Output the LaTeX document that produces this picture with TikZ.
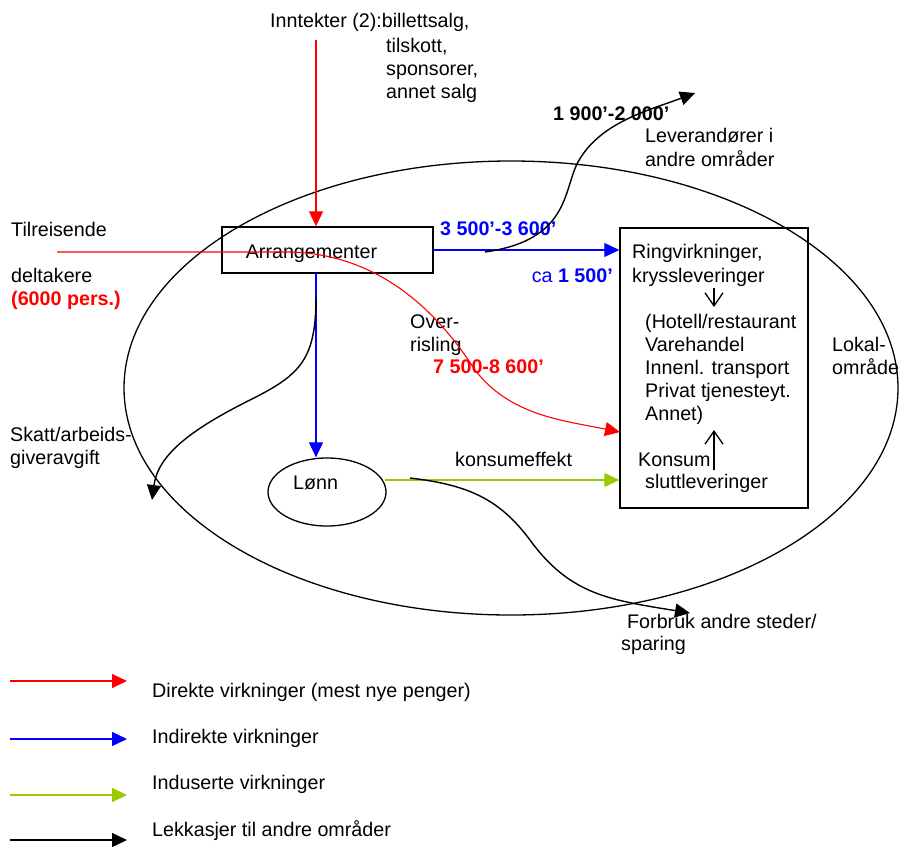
\documentclass[tikz,border=0pt]{standalone}
\usepackage{fontspec}
\setmainfont{Liberation Sans}
\usetikzlibrary{arrows.meta,shapes.geometric}
\definecolor{dred}{RGB}{255,0,0}
\definecolor{dblue}{RGB}{0,0,255}
\definecolor{dgreen}{RGB}{153,204,0}
\begin{document}
\begin{tikzpicture}[x=1pt,y=-1pt,
  lbl/.style={anchor=base west, inner sep=0pt, font=\fontsize{19.7}{23}\selectfont},
  tri/.style={-{Triangle[length=15pt,width=14pt]}},
  barb/.style={-{Straight Barb[length=13pt,width=18pt]}, line width=1.3pt},
  redl/.style={dred, line width=1.1pt, tri},
  bluel/.style={dblue, line width=1.1pt, tri},
  greenl/.style={dgreen, line width=1.4pt, tri},
  blackl/.style={black, line width=1.4pt, tri},
  boxst/.style={draw, line width=1.4pt, rectangle, inner sep=0pt}
]
\useasboundingbox (0,0) rectangle (901,846);

% big ellipse (local area)
\node[draw, line width=1.3pt, ellipse, inner sep=0pt, minimum width=774pt, minimum height=454pt] (lokal) at (511,388) {};

% boxes
\node[boxst, minimum width=211pt, minimum height=46pt] (arr) at (327.5,250) {};
\node[lbl, anchor=base] (arrtxt) at (311.5,258) {Arrangementer};
\node[boxst, minimum width=188pt, minimum height=280pt] (rbox) at (714,368) {};
\node[draw, line width=1.3pt, ellipse, inner sep=0pt, minimum width=118pt, minimum height=68pt] (lonn) at (327,492) {};
\node[lbl] (lonntxt) at (293,489) {Lønn};

% texts
\node[lbl] (inn1) at (270,27) {Inntekter (2):billettsalg,};
\node[lbl] (inn2) at (386,52) {tilskott,};
\node[lbl] (inn3) at (386,75) {sponsorer,};
\node[lbl] (inn4) at (386,98) {annet salg};
\node[lbl, font=\fontsize{19.7}{23}\selectfont\bfseries] (lev0) at (553,120) {1 900’-2 000’};
\node[lbl] (lev1) at (645,142) {Leverandører i};
\node[lbl] (lev2) at (645,166) {andre områder};
\node[lbl] (til1) at (11,236) {Tilreisende};
\node[lbl] (til2) at (11,282) {deltakere};
\node[lbl, text=dred, font=\fontsize{19.7}{23}\selectfont\bfseries] (til3) at (11,305) {(6000 pers.)};
\node[lbl, text=dblue, font=\fontsize{19.7}{23}\selectfont\bfseries] (b1) at (440,235) {3 500’-3 600’};
\node[lbl, text=dblue, anchor=base east] (b2) at (613,282) {ca \textbf{1 500’}};
\node[lbl] (r1) at (632,258) {Ringvirkninger,};
\node[lbl] (r2) at (632,282) {kryssleveringer};
\node[lbl] (r3) at (645,328) {(Hotell/restaurant};
\node[lbl] (r4) at (645,351) {Varehandel};
\node[lbl] (r5) at (645,374) {Innenl. transport};
\node[lbl] (r6) at (645,397) {Privat tjenesteyt.};
\node[lbl] (r7) at (645,420) {Annet)};
\node[lbl] (r8) at (638,466) {Konsum};
\node[lbl] (r9) at (645,488) {sluttleveringer};
\node[lbl] (ov1) at (410,328) {Over-};
\node[lbl] (ov2) at (410,351) {risling};
\node[lbl, text=dred, font=\fontsize{19.7}{23}\selectfont\bfseries] (ov3) at (433,373) {7 500-8 600’};
\node[lbl] (kons) at (455,466) {konsumeffekt};
\node[lbl] (lok1) at (832,351) {Lokal-};
\node[lbl] (lok2) at (832,374) {område};
\node[lbl] (sk1) at (10,441) {Skatt/arbeids-};
\node[lbl] (sk2) at (10,464) {giveravgift};
\node[lbl] (fb1) at (627,628) {Forbruk andre steder/};
\node[lbl] (fb2) at (621,650) {sparing};

% coordinates
\coordinate (innc) at (316,40);
\coordinate (tilc) at (57,252);
\coordinate (redend) at (620,432);
\coordinate (bd) at (316,273);
\coordinate (g1) at (385,480);
\coordinate (levs) at (485,252);
\coordinate (leve) at (695,93);
\coordinate (sks) at (316,297);
\coordinate (ske) at (152,500);
\coordinate (fbs) at (410,478);
\coordinate (fbe) at (690,613);
\coordinate (da1) at (714,288);
\coordinate (da2) at (714,307);
\coordinate (ua1) at (714,470);
\coordinate (ua2) at (714,430);

% connectors
\draw[redl] (innc) -- (innc |- arr.north);
\draw[redl] (tilc) -- (290,252) .. controls (370,254) and (430,300) .. (475,370)
   .. controls (510,415) and (560,420) .. (redend);
\draw[bluel] (arr.east) -- (rbox.west |- arr.east);
\draw[bluel] (bd) -- (bd |- lonn.north);
\draw[greenl] (g1) -- (rbox.west |- g1);
\draw[blackl] (levs) .. controls (570,240) and (563,190) .. (578,162)
   .. controls (600,122) and (650,110) .. (leve);
\draw[blackl] (sks) .. controls (316,360) and (300,375) .. (250,400)
   .. controls (190,430) and (158,455) .. (ske);
\draw[blackl] (fbs) .. controls (470,485) and (500,500) .. (530,540)
   .. controls (570,595) and (610,600) .. (fbe);
\draw[barb] (da1) -- (da2);
\draw[barb] (ua1) -- (ua2);

% legend
\coordinate (l1a) at (10,681); \coordinate (l1b) at (127,681);
\coordinate (l2a) at (10,739); \coordinate (l2b) at (127,739);
\coordinate (l3a) at (10,795); \coordinate (l3b) at (127,795);
\coordinate (l4a) at (10,840); \coordinate (l4b) at (127,840);
\draw[redl] (l1a) -- (l1b);
\draw[bluel] (l2a) -- (l2b);
\draw[greenl] (l3a) -- (l3b);
\draw[blackl] (l4a) -- (l4b);
\node[lbl] (lg1) at (152,697) {Direkte virkninger (mest nye penger)};
\node[lbl] (lg2) at (152,743) {Indirekte virkninger};
\node[lbl] (lg3) at (152,789) {Induserte virkninger};
\node[lbl] (lg4) at (152,836) {Lekkasjer til andre områder};
\end{tikzpicture}
\end{document}
